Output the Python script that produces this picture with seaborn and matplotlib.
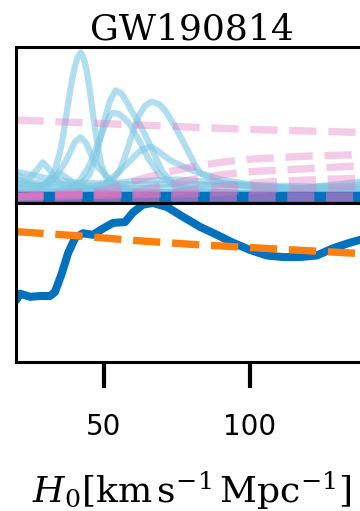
import numpy as np
import pandas as pd
import matplotlib
matplotlib.use("Agg")
import matplotlib.pyplot as plt
import seaborn as sns

sns.set_style("ticks")
plt.rcParams["font.family"] = ["DejaVu Sans"]
plt.rcParams["mathtext.fontset"] = "dejavuserif"
plt.rcParams["text.color"] = "black"
plt.rcParams["axes.labelcolor"] = "black"

# H0 axis range
h0_range = [20, 140]
h0_ticks = [50, 100]
title = "GW190814"

# individual event posteriors (top panel)
curve_a_h0 = [20, 26, 30, 33, 35, 36, 37, 38, 39, 40, 41, 42, 43, 44, 45, 46, 47, 48, 49, 51, 54, 58, 65, 80, 100, 140]
curve_a_p = [0.10, 0.09, 0.12, 0.20, 0.33, 0.43, 0.55, 0.67, 0.78, 0.87, 0.93, 0.96, 0.93, 0.85, 0.74, 0.60, 0.47, 0.35, 0.25, 0.15, 0.10, 0.08, 0.07, 0.06, 0.06, 0.06]
curve_b_h0 = [20, 35, 42, 45, 47, 48, 50, 52, 54, 56, 58, 60, 62, 64, 66, 68, 70, 74, 80, 100, 140]
curve_b_p = [0.06, 0.07, 0.12, 0.18, 0.28, 0.35, 0.52, 0.65, 0.72, 0.70, 0.64, 0.57, 0.51, 0.44, 0.36, 0.28, 0.20, 0.12, 0.08, 0.06, 0.05]
curve_c_h0 = [20, 38, 42, 45, 48, 50, 52, 53, 55, 57, 59, 62, 65, 69, 75, 90, 140]
curve_c_p = [0.06, 0.08, 0.15, 0.24, 0.38, 0.48, 0.56, 0.575, 0.57, 0.54, 0.50, 0.40, 0.29, 0.18, 0.10, 0.07, 0.05]
curve_d_h0 = [20, 45, 52, 55.5, 58, 60, 62, 64, 66, 67, 69, 71, 74, 76, 78, 81, 83, 87, 92, 97, 110, 140]
curve_d_p = [0.06, 0.07, 0.115, 0.21, 0.34, 0.46, 0.56, 0.62, 0.645, 0.645, 0.63, 0.59, 0.50, 0.43, 0.36, 0.25, 0.19, 0.15, 0.12, 0.11, 0.09, 0.08]
curve_e_h0 = [20, 30, 33, 35, 37, 39, 40, 42, 44, 46, 48, 50, 54, 60, 80, 140]
curve_e_p = [0.08, 0.10, 0.16, 0.21, 0.27, 0.35, 0.39, 0.42, 0.38, 0.29, 0.23, 0.19, 0.115, 0.08, 0.06, 0.05]
curve_f_h0 = [20, 45, 50, 54, 59, 61, 63, 66, 68, 70, 73, 80, 90, 103, 120, 140]
curve_f_p = [0.07, 0.08, 0.12, 0.18, 0.27, 0.31, 0.34, 0.36, 0.34, 0.31, 0.27, 0.21, 0.15, 0.11, 0.09, 0.09]
curve_g_h0 = [20, 24, 27, 29, 31, 34, 38, 50, 140]
curve_g_p = [0.18, 0.15, 0.21, 0.26, 0.22, 0.14, 0.10, 0.07, 0.06]
curve_h_h0 = [20, 28, 32, 35, 38, 42, 60, 140]
curve_h_p = [0.12, 0.11, 0.15, 0.19, 0.15, 0.10, 0.07, 0.06]
curve_i_h0 = [20, 30, 40, 60, 80, 100, 110, 120, 130, 140]
curve_i_p = [0.20, 0.16, 0.13, 0.12, 0.12, 0.11, 0.10, 0.10, 0.11, 0.12]
curve_j_h0 = [20, 30, 45, 60, 75, 90, 105, 115, 125, 140]
curve_j_p = [0.15, 0.12, 0.11, 0.14, 0.15, 0.13, 0.10, 0.09, 0.11, 0.14]
curve_k_h0 = [20, 35, 50, 70, 90, 110, 140]
curve_k_p = [0.13, 0.10, 0.09, 0.10, 0.12, 0.11, 0.10]

# priors (pink dashed, top panel)
prior_1_h0 = [20, 60, 100, 140]
prior_1_p = [0.53, 0.50, 0.47, 0.45]
prior_2_h0 = [20, 50, 60, 70, 80, 90, 100, 120, 140]
prior_2_p = [0.04, 0.08, 0.14, 0.19, 0.23, 0.26, 0.28, 0.30, 0.31]
prior_3_h0 = [20, 60, 70, 80, 90, 100, 120, 140]
prior_3_p = [0.04, 0.07, 0.11, 0.15, 0.18, 0.20, 0.22, 0.24]
prior_4_h0 = [20, 70, 90, 110, 140]
prior_4_p = [0.04, 0.06, 0.11, 0.14, 0.16]
prior_5_h0 = [20, 80, 110, 140]
prior_5_p = [0.04, 0.06, 0.09, 0.11]
flat_h0 = [20, 140]
flat_priors = [0.045, 0.04, 0.035]
flat_posterior = 0.04

# combined result (bottom panel)
comb_h0 = [20, 21.2, 24.7, 28.1, 31.5, 33.2, 35.6, 37.7, 40.1, 42.8, 46.2, 49.7, 53.1, 57.2, 59.9,
           63.4, 66.8, 71.6, 76.0, 82.9, 88.7, 94.2, 100, 105.8, 111.3, 117.1, 122.9, 128.4, 134.2, 140]
comb_p = [0.39, 0.43, 0.41, 0.415, 0.415, 0.44, 0.56, 0.685, 0.78, 0.81, 0.80, 0.84, 0.875, 0.88, 0.94,
          0.99, 1.0, 0.975, 0.925, 0.85, 0.80, 0.75, 0.705, 0.67, 0.66, 0.66, 0.67, 0.715, 0.75, 0.78]
comb_prior_h0 = [20, 40, 60, 80, 100, 120, 140]
comb_prior_p = [0.82, 0.795, 0.765, 0.74, 0.72, 0.70, 0.68]

events = [(curve_a_h0, curve_a_p), (curve_b_h0, curve_b_p), (curve_c_h0, curve_c_p),
          (curve_d_h0, curve_d_p), (curve_e_h0, curve_e_p), (curve_f_h0, curve_f_p),
          (curve_g_h0, curve_g_p), (curve_h_h0, curve_h_p), (curve_i_h0, curve_i_p),
          (curve_j_h0, curve_j_p), (curve_k_h0, curve_k_p)]
priors = [(prior_1_h0, prior_1_p), (prior_2_h0, prior_2_p), (prior_3_h0, prior_3_p),
          (prior_4_h0, prior_4_p), (prior_5_h0, prior_5_p)]

blue = "#0072bd"
orange = "#ff7f0e"
pink = "#e377c2"
light_blue = "#7ec8e3"

fig = plt.figure(figsize=(3.6, 5.11), dpi=100)
ax_top = fig.add_axes([0.0456, 0.6027, 0.973, 0.3063])
ax_bot = fig.add_axes([0.0456, 0.2916, 0.973, 0.3111])

# top panel
for h, p in events:
    sns.lineplot(x=h, y=p, ax=ax_top, color=light_blue, alpha=0.6, lw=4.5, sort=False)
sns.lineplot(x=flat_h0, y=[flat_posterior] * 2, ax=ax_top, color=blue, lw=7.5, sort=False)
for h, p in priors:
    sns.lineplot(x=h, y=p, ax=ax_top, color=pink, alpha=0.38, lw=5.3, ls="--", sort=False)
# dash pattern kept at ~39 px period for the thick flat lines
for v in flat_priors:
    sns.lineplot(x=flat_h0, y=[v] * 2, ax=ax_top, color=pink, alpha=0.25, lw=7.5,
                 ls=(0, (2.6, 1.12)), sort=False)

# bottom panel
sns.lineplot(x=comb_h0, y=comb_p, ax=ax_bot, color=blue, lw=5.8, sort=False)
sns.lineplot(x=comb_prior_h0, y=comb_prior_p, ax=ax_bot, color=orange, lw=5.3, ls="--", sort=False)

for ax in (ax_top, ax_bot):
    ax.set_xlim(h0_range)
    ax.set_ylim(0, 1)
    ax.set_yticks([])
    ax.set_ylabel("")
    for s in ax.spines.values():
        s.set_linewidth(2.2)
        s.set_color("black")

ax_top.set_xticks([])
ax_top.set_title(title, family="DejaVu Serif", fontsize=26, pad=5, color="black")

ax_bot.set_xticks(h0_ticks)
ax_bot.tick_params(axis="x", length=19, width=3, pad=18, labelsize=20, colors="black")
ax_bot.set_xlabel(r"$H_0[\mathrm{km\,s^{-1}\,Mpc^{-1}}]$", fontsize=26, labelpad=20)

fig.savefig("out.png", dpi=100)
